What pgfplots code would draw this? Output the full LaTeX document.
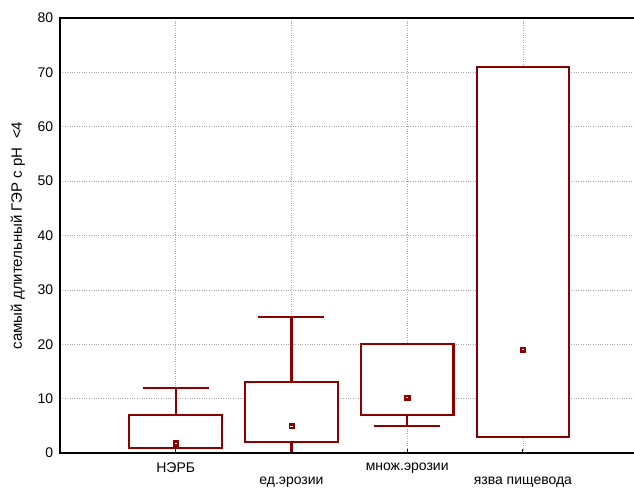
\documentclass[border=0pt]{standalone}
\usepackage{pgfplots}
\pgfplotsset{compat=1.18}
\usepgfplotslibrary{statistics}
\usepackage{fontspec}
\setmainfont{Liberation Sans}
\definecolor{boxred}{RGB}{140,0,0}
\begin{document}
\fontsize{14pt}{16pt}\selectfont
\begin{tikzpicture}
\begin{axis}[
  at={(0,0)}, anchor=south west,
  scale only axis, width=574pt, height=435pt,
  xmin=0, xmax=4.96, ymin=0, ymax=80,
  ytick={0,10,...,80},
  xtick={1,2,3,4},
  xticklabels={НЭРБ,\strut\\ед.эрозии,множ.эрозии,\strut\\язва пищевода},
  xticklabel style={align=center, font=\fontsize{14pt}{13pt}\selectfont, yshift=-5pt},
  yticklabel style={font=\fontsize{14pt}{16pt}\selectfont, xshift=-2pt},
  /pgf/number format/assume math mode=true,
  ylabel={самый длительный ГЭР с рН \ <4},
  ylabel style={font=\fontsize{15pt}{17pt}\selectfont, yshift=3pt},
  axis line style={draw=none},
  grid=major,
  major grid style={dotted, gray!70, line width=0.6pt},
  ytick style={draw=none},
  xtick style={black, line width=1pt},
  tick pos=left,
  xtick align=inside,
  major tick length=4pt,
  boxplot/draw direction=y,
  boxplot/box extend=0.8,
  boxplot/whisker extend=0.57,
  boxplot/draw/median/.code={},
  boxplot/every whisker/.append style={line width=2.1pt, boxred, solid},
  boxplot/every box/.append style={line width=2.1pt, boxred, solid, fill=white},
  clip=false,
]
\addplot[boxred, fill=white, line width=2.1pt, solid,
  boxplot prepared={lower whisker=1, lower quartile=1, median=2, upper quartile=7, upper whisker=12, draw position=1}]
  coordinates {};
\addplot[boxred, fill=white, line width=2.1pt, solid,
  boxplot prepared={lower whisker=0, lower quartile=2, median=5, upper quartile=13, upper whisker=25, draw position=2}]
  coordinates {};
\addplot[boxred, fill=white, line width=2.1pt, solid,
  boxplot prepared={lower whisker=5, lower quartile=7, median=10, upper quartile=20, upper whisker=20, draw position=3}]
  coordinates {};
\addplot[boxred, fill=white, line width=2.1pt, solid,
  boxplot prepared={lower whisker=3, lower quartile=3, median=19, upper quartile=71, upper whisker=71, draw position=4}]
  coordinates {};
\addplot[only marks, mark=square*, mark size=2.6pt, boxred, mark options={solid}]
  coordinates {(1,1.8) (2,5) (3,10.2) (4,19)};
\addplot[only marks, mark=-, mark size=1.1pt, white, line width=0.6pt]
  coordinates {(1,1.8) (2,5) (3,10.2) (4,19)};
\draw[black, line width=1.5pt] (rel axis cs:1,1) -- (rel axis cs:0,1) -- (rel axis cs:0,0) -- (rel axis cs:1,0);
\end{axis}
\pgfresetboundingbox
\path[use as bounding box] (-60pt,-36pt) rectangle (574pt,453pt);
\end{tikzpicture}
\end{document}
